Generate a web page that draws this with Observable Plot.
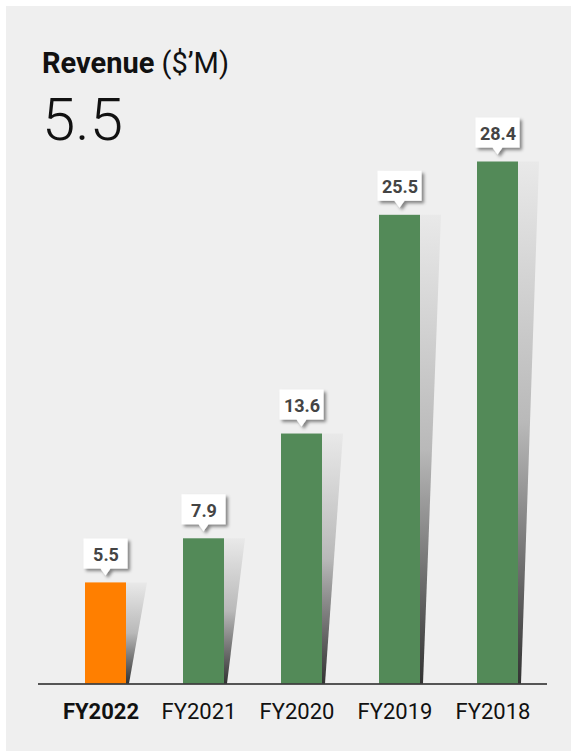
<!DOCTYPE html>
<html>
<head>
<meta charset="utf-8">
<script src="https://cdn.jsdelivr.net/npm/d3@7"></script>
<script src="https://cdn.jsdelivr.net/npm/@observablehq/plot@0.6"></script>
<style>
  html, body { margin: 0; padding: 0; background: #ffffff; }
  #wrap { position: relative; width: 571px; height: 751px; overflow: hidden; font-family: Roboto, "Noto Sans", sans-serif; }
  #bg { position: absolute; left: 6px; top: 6px; right: 0; bottom: 0; background: #efefef; }
  #chart { position: absolute; left: 0; top: 0; }
  #title { position: absolute; left: 42px; top: 49px; font-size: 29px; line-height: 29px; color: #111; white-space: nowrap; }
  #title b { font-weight: 700; }
  #title span { font-weight: 400; }
  #headline { position: absolute; left: 42px; top: 90px; font-size: 60px; line-height: 60px; font-weight: 300; color: #111; }
</style>
</head>
<body>
<div id="wrap">
  <div id="bg"></div>
  <div id="chart"></div>
  <div id="title"><b>Revenue</b> <span>($’M)</span></div>
  <div id="headline">5.5</div>
</div>
<script>
// ---- data ----
const years = ["FY2022", "FY2021", "FY2020", "FY2019", "FY2018"];
const revenue = [5.5, 7.9, 13.6, 25.5, 28.4];
const highlightYear = "FY2022";

const data = years.map((year, i) => ({year, value: revenue[i]}));

// ---- style ----
const ORANGE = "#ff7f00";
const GREEN = "#538a58";
const BAR_DX = 5;

function shadowMark(index, scales, values, dimensions) {
  const {x, y} = scales;
  const bw = x.bandwidth ? x.bandwidth() : 41;
  const g = d3.create("svg:g");
  const defs = g.append("defs");
  const grad = defs.append("linearGradient")
    .attr("id", "shadowGrad").attr("x1", 0).attr("y1", 0).attr("x2", 0).attr("y2", 1);
  grad.append("stop").attr("offset", "0%").attr("stop-color", "#e9e9e9");
  grad.append("stop").attr("offset", "50%").attr("stop-color", "#b9b9b9");
  grad.append("stop").attr("offset", "100%").attr("stop-color", "#333333");
  const y0 = y(0);
  for (const d of data) {
    const xr = x(d.year) + bw + BAR_DX;
    const yt = y(d.value);
    g.append("path")
      .attr("d", `M${xr},${yt}L${xr + 21},${yt}L${xr + 3},${y0}L${xr},${y0}Z`)
      .attr("fill", "url(#shadowGrad)");
  }
  return g.node();
}

function calloutMark(index, scales, values, dimensions) {
  const {x, y} = scales;
  const bw = x.bandwidth ? x.bandwidth() : 41;
  const g = d3.create("svg:g");
  const defs = g.append("defs");
  const f = defs.append("filter").attr("id", "calloutShadow")
    .attr("x", "-30%").attr("y", "-30%").attr("width", "170%").attr("height", "170%");
  f.append("feDropShadow").attr("dx", 2.5).attr("dy", 2.5).attr("stdDeviation", 1.4)
    .attr("flood-color", "#000").attr("flood-opacity", 0.45);
  for (const d of data) {
    const cx = x(d.year) + bw / 2 + BAR_DX;
    const t = y(d.value);
    const top = t - 44, bot = t - 14;
    g.append("path")
      .attr("d", `M${cx - 22},${top}H${cx + 22}V${bot}H${cx + 5}L${cx},${t - 7}L${cx - 5},${bot}H${cx - 22}Z`)
      .attr("fill", "#ffffff")
      .attr("filter", "url(#calloutShadow)");
  }
  return g.node();
}

const chart = Plot.plot({
  width: 571,
  height: 751,
  marginLeft: 21,
  marginRight: 0,
  marginTop: 161.5,
  marginBottom: 67.5,
  style: {background: "transparent", fontFamily: "Roboto, 'Noto Sans', sans-serif"},
  x: {domain: years, padding: 0.583, axis: null},
  y: {domain: [0, 28.4], axis: null},
  marks: [
    shadowMark,
    Plot.barY(data.filter(d => d.year === highlightYear), {x: "year", y: "value", fill: ORANGE, dx: BAR_DX}),
    Plot.barY(data.filter(d => d.year !== highlightYear), {x: "year", y: "value", fill: GREEN, dx: BAR_DX}),
    Plot.ruleY([0], {stroke: "#222", strokeWidth: 1.5, insetLeft: 17, insetRight: 24}),
    calloutMark,
    Plot.text(data, {x: "year", y: "value", text: d => d.value.toFixed(1), dx: BAR_DX, dy: -27.8,
      fill: "#444", fontSize: 18, fontWeight: 700}),
    Plot.text(data.filter(d => d.year === highlightYear), {x: "year", y: () => 0, text: "year", dy: 27.5,
      fill: "#111", fontSize: 22, fontWeight: 700}),
    Plot.text(data.filter(d => d.year !== highlightYear), {x: "year", y: () => 0, text: "year", dy: 27.5,
      fill: "#111", fontSize: 22, fontWeight: 400})
  ]
});
document.getElementById("chart").appendChild(chart);
</script>
</body>
</html>
